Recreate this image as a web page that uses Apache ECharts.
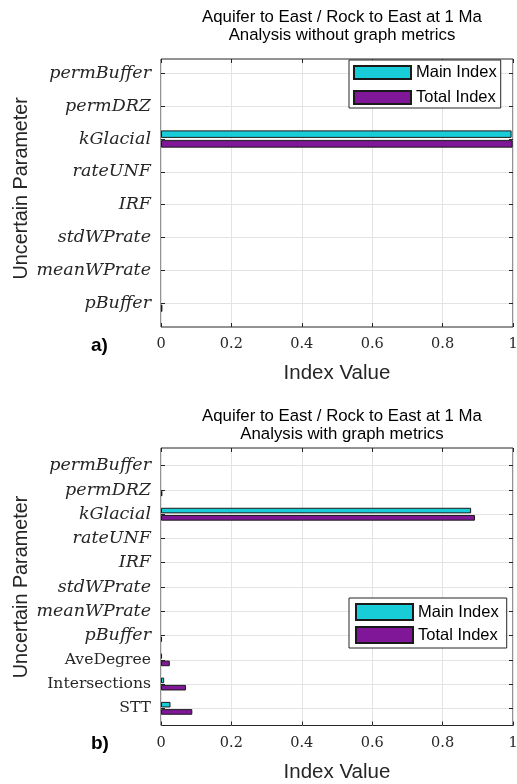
<!DOCTYPE html>
<html>
<head>
<meta charset="utf-8">
<script src="https://cdn.jsdelivr.net/npm/echarts@6/dist/echarts.min.js"></script>
<style>
  html, body { margin: 0; padding: 0; background: #fff; }
  #chart { width: 517px; height: 784px; }
</style>
</head>
<body>
<div id="chart"></div>
<script>
// Sensitivity indices for flow paths (aquifer / rock to east) at 1 Ma
const paramsBase = ['permBuffer', 'permDRZ', 'kGlacial', 'rateUNF', 'IRF', 'stdWPrate', 'meanWPrate', 'pBuffer'];
const paramsGraph = ['permBuffer', 'permDRZ', 'kGlacial', 'rateUNF', 'IRF', 'stdWPrate', 'meanWPrate', 'pBuffer', 'AveDegree', 'Intersections', 'STT'];
const graphMetricNames = ['AveDegree', 'Intersections', 'STT'];

// a) without graph metrics
const mainIndexA = [0, 0, 0.996, 0, 0, 0, 0, 0];
const totalIndexA = [0, 0, 0.999, 0, 0, 0, 0, 0.004];

// b) with graph metrics
const mainIndexB = [0, 0, 0.881, 0, 0, 0, 0, 0, 0.003, 0.009, 0.027];
const totalIndexB = [0, 0.004, 0.892, 0, 0, 0, 0, 0.003, 0.025, 0.071, 0.089];

const indexTicks = ['0', '0.2', '0.4', '0.6', '0.8', '1'];
const seriesNames = ['Main Index', 'Total Index'];
const titleA = 'Aquifer to East / Rock to East at 1 Ma\nAnalysis without graph metrics';
const titleB = 'Aquifer to East / Rock to East at 1 Ma\nAnalysis with graph metrics';

const COL_MAIN = '#19cdd8';
const COL_TOTAL = '#7f1798';
const AX = '#262626';
const GRIDC = '#e3e3e3';
const SANS = 'Liberation Sans, Arial, Helvetica, sans-serif';
const SERIF = 'DejaVu Serif, serif';

const chart = echarts.init(document.getElementById('chart'), null, { renderer: 'canvas' });

// panel geometry: frame box and the band holding the category ticks
const panels = [
  { frame: { top: 59, height: 268 }, cats: { top: 73.3, height: 230 }, bar: 7.5 },
  { frame: { top: 448, height: 277.5 }, cats: { top: 465.7, height: 242.6 }, bar: 5.6 }
];
const LEFT = 161, WIDTH = 352;

function catLabel(v) {
  return graphMetricNames.indexOf(v) >= 0 ? '{r|' + v + '}' : '{m|' + v + '}';
}

const grid = [], xAxis = [], yAxis = [];
panels.forEach((p, k) => {
  grid.push({ left: LEFT, width: WIDTH, top: p.frame.top, height: p.frame.height,
    show: true, borderColor: AX, borderWidth: 1, backgroundColor: '#fff', outerBoundsMode: 'none', containLabel: false });
  grid.push({ left: LEFT, width: WIDTH, top: p.cats.top, height: p.cats.height,
    show: false, outerBoundsMode: 'none', containLabel: false });
  const gF = 2 * k, gC = 2 * k + 1;
  const cats = k === 0 ? paramsBase : paramsGraph;
  // value axis with labels + vertical grid lines
  xAxis.push({ gridIndex: gF, type: 'value', min: 0, max: 1, interval: 0.2, position: 'bottom',
    axisLine: { show: false },
    axisTick: { show: true, inside: true, length: 4, lineStyle: { color: AX } },
    splitLine: { show: true, lineStyle: { color: GRIDC, width: 1 } },
    axisLabel: { margin: 10, color: AX, fontFamily: SERIF, fontSize: 14.5,
      formatter: (v) => indexTicks[Math.round(v / 0.2)] },
    name: 'Index Value', nameLocation: 'middle', nameGap: 36, nameMoveOverlap: false,
    nameTextStyle: { fontFamily: SANS, fontSize: 20.5, color: AX } });
  // top edge ticks
  xAxis.push({ gridIndex: gF, type: 'value', min: 0, max: 1, interval: 0.2, position: 'top',
    axisLine: { show: false }, axisLabel: { show: false }, splitLine: { show: false },
    axisTick: { show: true, inside: true, length: 4, lineStyle: { color: AX } } });
  // value axis used by the bars
  xAxis.push({ gridIndex: gC, type: 'value', min: 0, max: 1, show: false });

  yAxis.push({ gridIndex: gF, type: 'value', show: false });
  yAxis.push({ gridIndex: gC, type: 'category', data: cats, inverse: true, boundaryGap: false,
    axisLine: { show: false },
    axisTick: { show: true, inside: true, length: 4, interval: 0, lineStyle: { color: AX } },
    splitLine: { show: true, interval: 0, lineStyle: { color: GRIDC, width: 1 } },
    axisLabel: { interval: 0, margin: 10, formatter: catLabel,
      rich: {
        m: { fontFamily: SERIF, fontStyle: 'italic', fontSize: 17.5, color: AX },
        r: { fontFamily: SERIF, fontSize: 15.6, color: AX }
      } },
    name: 'Uncertain Parameter', nameLocation: 'middle', nameGap: 129, nameMoveOverlap: false,
    nameTextStyle: { fontFamily: SANS, fontSize: 19.8, color: AX } });
  yAxis.push({ gridIndex: gC, type: 'category', data: cats, inverse: true, boundaryGap: false,
    position: 'right', axisLine: { show: false }, axisLabel: { show: false }, splitLine: { show: false },
    axisTick: { show: true, inside: true, length: 4, interval: 0, lineStyle: { color: AX } } });
});

// zero-valued bars have no visible edge (they sit on the axis line)
function barData(values) {
  return values.map((v) => v === 0 ? { value: v, itemStyle: { borderWidth: 0 } } : v);
}

function barSeries(name, data, color, k) {
  return {
    type: 'bar', name: name, data: barData(data),
    xAxisIndex: 3 * k + 2, yAxisIndex: 3 * k + 1,
    barWidth: panels[k].bar, barGap: '30%', clip: false,
    itemStyle: { color: color, borderColor: '#1a1a1a', borderWidth: 1 },
    emphasis: { disabled: true }, animation: false
  };
}

const series = [
  barSeries(seriesNames[0], mainIndexA, COL_MAIN, 0),
  barSeries(seriesNames[1], totalIndexA, COL_TOTAL, 0),
  barSeries(seriesNames[0], mainIndexB, COL_MAIN, 1),
  barSeries(seriesNames[1], totalIndexB, COL_TOTAL, 1)
];

const legendBase = {
  orient: 'vertical', data: seriesNames, icon: 'rect', selectedMode: false,
  backgroundColor: '#fff', borderColor: AX, borderWidth: 1, itemWidth: 57,
  textStyle: { fontFamily: SANS, fontSize: 16.5, color: '#000' }
};

const option = {
  animation: false,
  backgroundColor: '#fff',
  title: [
    { text: titleA, left: LEFT + WIDTH / 2, top: 3, textAlign: 'center',
      textStyle: { fontFamily: SANS, fontSize: 16.8, fontWeight: 'normal', color: '#000', lineHeight: 18 } },
    { text: titleB, left: LEFT + WIDTH / 2, top: 402, textAlign: 'center',
      textStyle: { fontFamily: SANS, fontSize: 16.8, fontWeight: 'normal', color: '#000', lineHeight: 18 } }
  ],
  legend: [
    Object.assign({}, legendBase, { left: 349, top: 60, padding: [4, 4, 2, 4], itemHeight: 13, itemGap: 8 }),
    Object.assign({}, legendBase, { left: 349, top: 598, padding: [5, 8, 4, 6], itemHeight: 16, itemGap: 5 })
  ],
  grid: grid, xAxis: xAxis, yAxis: yAxis, series: series,
  graphic: [
    { type: 'text', left: 91, top: 336, style: { text: 'a)', font: 'bold 19px ' + SANS, fill: '#000' } },
    { type: 'text', left: 91, top: 734, style: { text: 'b)', font: 'bold 19px ' + SANS, fill: '#000' } }
  ]
};
chart.setOption(option);
</script>
</body>
</html>
